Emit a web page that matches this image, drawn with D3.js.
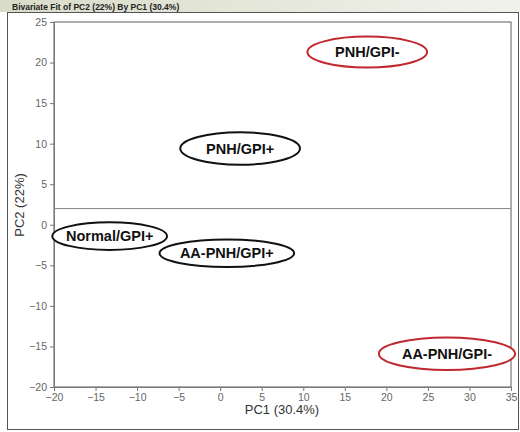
<!DOCTYPE html>
<html><head><meta charset="UTF-8">
<script src="https://d3js.org/d3.v7.min.js"></script>
<style>body{margin:0;background:#fff;font-family:Arial,"Liberation Sans",sans-serif}</style>
</head><body>
<svg id="chart" width="520" height="432"></svg>
<script>
const groups = ["PNH/GPI-", "PNH/GPI+", "Normal/GPI+", "AA-PNH/GPI+", "AA-PNH/GPI-"];
const pc1 = [17.7, 2.4, -13.3, 0.8, 27.3];
const pc2 = [21.3, 9.4, -1.4, -3.5, -15.9];
const spanX = [7.2, 7.2, 6.9, 8.1, 8.2];   // ellipse half-width in PC1 units
const spanY = [1.9, 2.0, 1.7, 1.7, 2.0];   // ellipse half-height in PC2 units
const ringColor = ["#c0282d", "#111", "#111", "#111", "#c0282d"];
const xTicks = d3.range(-20, 36, 5);
const yTicks = d3.range(-20, 26, 5);
const meanPC2 = 2;

const svg = d3.select("#chart");
const defs = svg.append("defs");
const g = defs.append("linearGradient").attr("id", "bar").attr("x1", 0).attr("x2", 1);
g.append("stop").attr("offset", 0).attr("stop-color", "#d8dcc8");
g.append("stop").attr("offset", 1).attr("stop-color", "#f2f2ec");
svg.append("rect").attr("width", 520).attr("height", 12).attr("fill", "url(#bar)");
svg.append("text").attr("x", 12).attr("y", 9.5).attr("font-size", 8.5).attr("font-weight", "bold")
  .attr("fill", "#222").text("Bivariate Fit of PC2 (22%) By PC1 (30.4%)");
svg.append("rect").attr("x", 7.5).attr("y", 12.5).attr("width", 511).attr("height", 417)
  .attr("fill", "none").attr("stroke", "#555");

const x = d3.scaleLinear().domain([-20, 35]).range([54, 511]);
const y = d3.scaleLinear().domain([-20, 25]).range([387, 22]);

svg.append("rect").attr("x", 54).attr("y", 22).attr("width", 457).attr("height", 365)
  .attr("fill", "none").attr("stroke", "#777").attr("stroke-width", 1.2);

const ax = svg.append("g").attr("transform", "translate(0,387)")
  .call(d3.axisBottom(x).tickValues(xTicks).tickSize(4).tickSizeOuter(0));
const ay = svg.append("g").attr("transform", "translate(54,0)")
  .call(d3.axisLeft(y).tickValues(yTicks).tickSize(4).tickSizeOuter(0));
[ax, ay].forEach(a => {
  a.select(".domain").attr("stroke", "#777");
  a.selectAll("line").attr("stroke", "#777");
  a.selectAll("text").attr("fill", "#666").attr("font-size", 10.5);
});

svg.append("line").attr("x1", 54).attr("x2", 511).attr("y1", y(meanPC2)).attr("y2", y(meanPC2))
  .attr("stroke", "#888").attr("stroke-width", 1);

svg.append("text").attr("x", 282).attr("y", 414).attr("text-anchor", "middle")
  .attr("font-size", 13).attr("fill", "#333").text("PC1 (30.4%)");
svg.append("text").attr("transform", "translate(24,205) rotate(-90)").attr("text-anchor", "middle")
  .attr("font-size", 13).attr("fill", "#333").text("PC2 (22%)");

const pxX = 457 / 55, pxY = 365 / 45;
const lab = svg.append("g").selectAll("g").data(groups).join("g")
  .attr("transform", (d, i) => `translate(${x(pc1[i])},${y(pc2[i])})`);
lab.append("ellipse").attr("rx", (d, i) => spanX[i] * pxX).attr("ry", (d, i) => spanY[i] * pxY)
  .attr("fill", "#fff").attr("stroke", (d, i) => ringColor[i]).attr("stroke-width", 2);
lab.append("text").attr("text-anchor", "middle").attr("dy", "0.36em")
  .attr("font-size", 14.5).attr("font-weight", "bold").attr("fill", "#111").text(d => d);
</script>
</body></html>
